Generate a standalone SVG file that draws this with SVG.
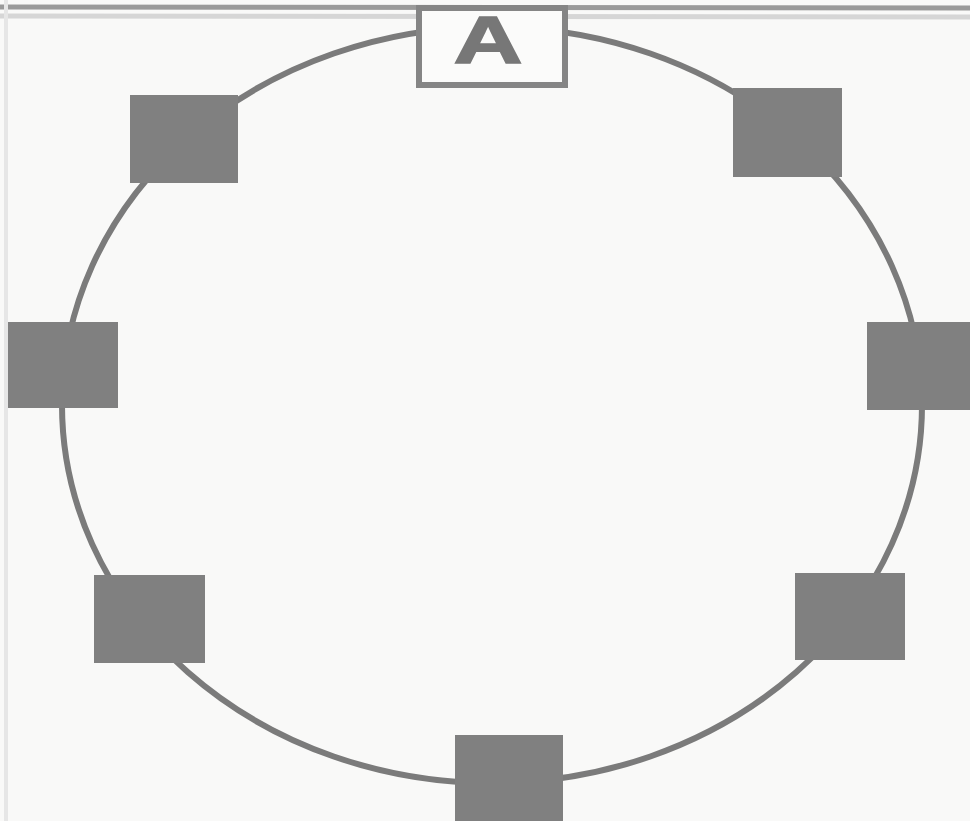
<svg xmlns="http://www.w3.org/2000/svg" width="970" height="821" viewBox="0 0 970 821">
<style>
.ring{fill:none;stroke:#7b7b7b;stroke-width:6}
.sq{fill:#808080;stroke:none}
.box{fill:#fbfbfa;stroke:#858585;stroke-width:6}
.lbl{font-family:"Liberation Sans",Arial,sans-serif;font-weight:bold;font-size:66px;fill:#777777;stroke:#777777;stroke-width:1.5}
</style>
<rect x="0" y="0" width="970" height="821" fill="#f9f9f8"/>
<line x1="0" y1="7" x2="970" y2="8" stroke="#9a9a9a" stroke-width="5"/>
<line x1="0" y1="16" x2="970" y2="17" stroke="#d6d6d6" stroke-width="5"/>
<line x1="6" y1="0" x2="6" y2="821" stroke="#e6e6e6" stroke-width="4"/>
<g id="connectors">
<ellipse class="ring" cx="492" cy="405" rx="430" ry="378"/>
</g>
<g id="nodeA">
<rect class="box" x="419" y="8" width="146" height="77"/>
<text class="lbl" text-anchor="middle" transform="translate(488,63) scale(1.45,1)">A</text>
</g>
<g id="node-tl"><rect class="sq" x="130" y="95" width="108" height="88"/></g>
<g id="node-tr"><rect class="sq" x="733" y="88" width="109" height="89"/></g>
<g id="node-l"><rect class="sq" x="8" y="322" width="110" height="86"/></g>
<g id="node-r"><rect class="sq" x="867" y="322" width="103" height="88"/></g>
<g id="node-bl"><rect class="sq" x="94" y="575" width="111" height="88"/></g>
<g id="node-br"><rect class="sq" x="795" y="573" width="110" height="87"/></g>
<g id="node-b"><rect class="sq" x="455" y="735" width="108" height="86"/></g>
</svg>
